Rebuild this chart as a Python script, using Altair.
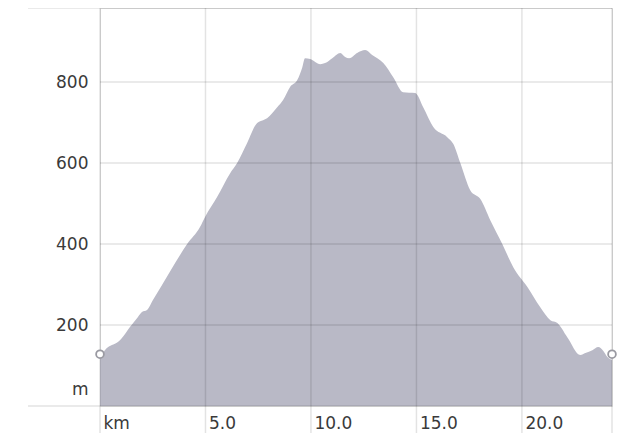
import altair as alt
import pandas as pd

# distance along route (km) and elevation (m), read from the profile
km = [0, 0.28, 0.47, 0.85, 1.04, 1.42, 1.80, 1.99, 2.23, 2.51, 2.94, 3.56, 4.13, 4.74, 4.98,
      5.55, 6.17, 6.50, 6.97, 7.45, 7.73, 7.92, 8.40, 8.68, 9.01, 9.35, 9.58, 9.72, 9.96,
      10.44, 10.67, 11.01, 11.39, 11.62, 11.81, 12.19, 12.57, 12.90, 13.43, 13.90, 14.37,
      14.94, 15.32, 15.80, 16.46, 16.75, 17.08, 17.55, 18.03, 18.50, 19.07, 19.59, 20.26,
      20.87, 21.35, 21.68, 22.15, 22.77, 23.01, 23.34, 23.62, 23.86, 24.05, 24.27]
elev = [118, 141, 148, 158, 168, 195, 220, 232, 237, 262, 299, 353, 400, 442, 467,
        516, 575, 600, 649, 699, 706, 711, 738, 756, 788, 805, 835, 859, 857,
        844, 847, 859, 872, 862, 859, 872, 879, 867, 847, 812, 775,
        773, 738, 689, 664, 647, 600, 533, 511, 459, 400, 343, 294,
        244, 212, 205, 170, 126, 131, 138, 146, 136, 121, 114]

x_ticks = [0, 5, 10, 15, 20]
x_lines = [0, 5, 10, 15, 20, 24.27]
y_ticks = [0, 200, 400, 600, 800]
y_grid = [200, 400, 600, 800]
y_frame = [0, 983]
end_km = [0, 24.27]
end_elev = [128, 128]

W, H = 512, 398
FONT = "DejaVu Sans"
xscale = alt.Scale(domain=[0, 24.27], nice=False, zero=False)
yscale = alt.Scale(domain=[0, 983], nice=False)

xaxis = alt.Axis(values=x_ticks, grid=False, ticks=False, domain=False,
                 labelExpr="datum.value == 0 ? 'km' : format(datum.value, '.1f')",
                 labelAlign="left", labelOffset=3, labelBaseline="middle",
                 labelPadding=17, labelFlush=False, labelOverlap=False,
                 labelFont=FONT, labelFontSize=17, labelColor="#3a3a3a")
yaxis = alt.Axis(values=y_ticks, grid=False, ticks=False, domain=False,
                 labelExpr="datum.value == 0 ? 'm' : datum.label",
                 labelPadding=12, labelFlush=False, labelOverlap=False,
                 labelOffset={"condition": {"test": "datum.value == 0", "value": -17}, "value": 0},
                 labelFont=FONT, labelFontSize=17, labelColor="#3a3a3a")

X = alt.X("km:Q", scale=xscale, title=None, axis=xaxis)
Y = alt.Y("elev:Q", scale=yscale, title=None, axis=yaxis)

profile = pd.DataFrame({"km": km, "elev": elev})

area = alt.Chart(profile).mark_area(color="#b9b9c6", interpolate="monotone").encode(x=X, y=Y)

rule_style = dict(color="#000", strokeOpacity=0.11, strokeWidth=1.5)

vlines = alt.Chart(pd.DataFrame({"km": x_lines})).mark_rule(**rule_style).encode(
    x=X, y=alt.value(0), y2=alt.value(H + 27),
)
hgrid = alt.Chart(pd.DataFrame({"elev": y_grid})).mark_rule(**rule_style).encode(
    y=Y, x=alt.value(0), x2=alt.value(W),
)
hframe = alt.Chart(pd.DataFrame({"elev": y_frame})).mark_rule(**rule_style).encode(
    y=Y, x=alt.value(-72), x2=alt.value(W),
)
ends = alt.Chart(pd.DataFrame({"km": end_km, "elev": end_elev})).mark_point(
    shape="circle", size=60, filled=True, fill="white", stroke="#9a9aa2", strokeWidth=1.8, opacity=1
).encode(x=X, y=Y)

chart = alt.layer(area, vlines, hgrid, hframe, ends).properties(
    width=W, height=H,
    autosize=alt.AutoSizeParams(type="none"),
    padding={"left": 92, "top": 0, "right": 20, "bottom": 30},
).configure_view(stroke=None).configure(background="white")

chart.save("out.html", embed_options={"renderer": "svg", "actions": False})
